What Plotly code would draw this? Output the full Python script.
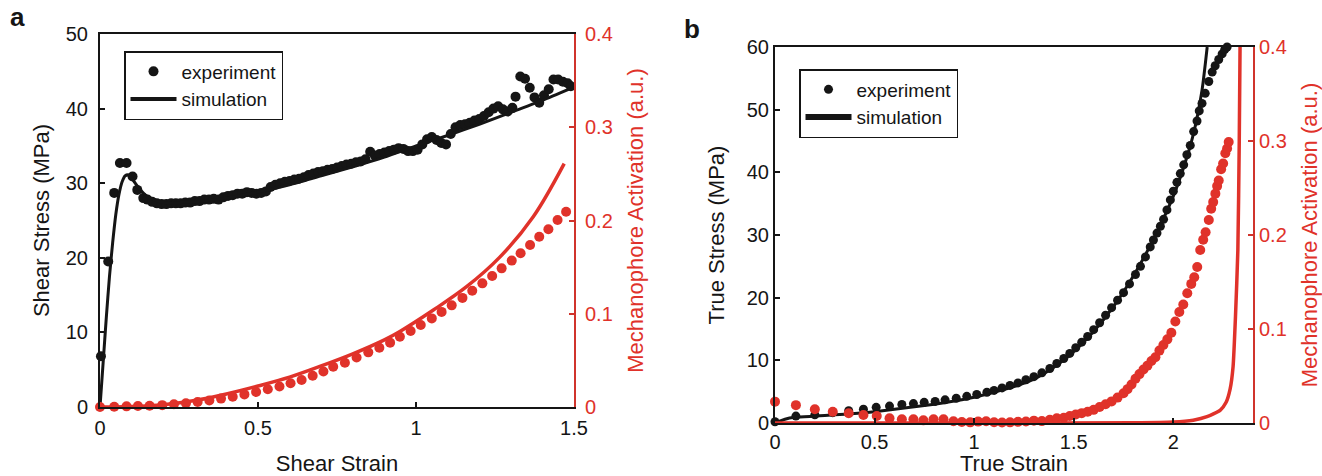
import plotly.graph_objects as go

# ---------------- Panel a data ----------------
a_exp_strain = [0.003, 0.026, 0.045, 0.063, 0.084, 0.103, 0.118, 0.137,
                0.15, 0.165, 0.18, 0.195, 0.21, 0.225, 0.24, 0.255, 0.27, 0.285, 0.30, 0.315,
                0.33, 0.345, 0.36, 0.375, 0.39, 0.405, 0.42, 0.435, 0.45, 0.465, 0.48, 0.495,
                0.51, 0.525, 0.54, 0.555, 0.57, 0.585, 0.60, 0.615, 0.63, 0.645, 0.66, 0.675,
                0.69, 0.705, 0.72, 0.735, 0.75, 0.765, 0.78, 0.795, 0.81, 0.825, 0.84, 0.855,
                0.87, 0.885, 0.90, 0.915, 0.93, 0.945, 0.96, 0.975, 0.99, 1.005, 1.02, 1.035,
                1.05, 1.065, 1.08, 1.095, 1.11, 1.125, 1.14, 1.155, 1.17, 1.185, 1.2, 1.215,
                1.23, 1.245, 1.26, 1.275, 1.29, 1.305, 1.315, 1.33, 1.345, 1.36, 1.375, 1.39,
                1.405, 1.42, 1.435, 1.45, 1.465, 1.48, 1.49]
a_exp_stress = [6.8, 19.5, 28.7, 32.7, 32.7, 30.9, 29.1, 28.0,
                27.8, 27.5, 27.3, 27.2, 27.2, 27.3, 27.3, 27.3, 27.4, 27.4, 27.6, 27.6,
                27.8, 27.8, 27.9, 27.8, 28.1, 28.3, 28.4, 28.6, 28.6, 28.8, 28.7, 28.6,
                28.7, 28.9, 29.5, 29.8, 30.0, 30.2, 30.3, 30.5, 30.6, 30.8, 31.1, 31.3,
                31.5, 31.6, 31.8, 31.9, 32.1, 32.3, 32.5, 32.6, 32.8, 32.9, 33.2, 34.2,
                33.7, 33.9, 34.1, 34.3, 34.5, 34.7, 34.6, 34.3, 34.3, 34.5, 35.2, 35.9,
                36.2, 35.8, 35.4, 35.2, 36.6, 37.5, 37.8, 37.9, 38.1, 38.4, 38.6, 39.0,
                39.5, 40.0, 40.3, 39.9, 39.6, 40.1, 41.6, 44.3, 44.0, 42.8, 41.5, 40.8,
                41.8, 42.6, 43.9, 43.9, 43.6, 43.4, 43.0]

a_sim_strain = [0, 0.01, 0.02, 0.03, 0.04, 0.05, 0.06, 0.07, 0.08, 0.09, 0.1, 0.12, 0.15,
                0.2, 0.3, 0.4, 0.5, 0.6, 0.7, 0.8, 0.9, 1.0, 1.1, 1.2, 1.3, 1.4, 1.49]
a_sim_stress = [0, 6, 12, 17.5, 22, 25.8, 28.5, 30.2, 31.0, 31.1, 30.7, 29.5, 28.2,
                27.4, 27.5, 28.0, 28.8, 29.8, 31.0, 32.2, 33.5, 35.0, 36.4, 37.9, 39.5, 41.1, 42.7]

a_act_exp_strain = [0.0, 0.045, 0.084, 0.12, 0.157, 0.197, 0.234, 0.272, 0.309, 0.346, 0.383,
                    0.42, 0.457, 0.494, 0.531, 0.568, 0.603, 0.638, 0.673, 0.707, 0.738,
                    0.775, 0.812, 0.849, 0.884, 0.918, 0.949, 0.983, 1.015, 1.05, 1.081,
                    1.113, 1.147, 1.178, 1.21, 1.241, 1.271, 1.303, 1.331, 1.361, 1.39,
                    1.419, 1.448, 1.475]
a_act_exp = [0.0, 0.0003, 0.0007, 0.001, 0.0014, 0.002, 0.003, 0.004, 0.0054, 0.007, 0.009,
             0.011, 0.0135, 0.016, 0.019, 0.022, 0.0255, 0.029, 0.0335, 0.038, 0.0432,
             0.0475, 0.053, 0.0586, 0.0636, 0.069, 0.0754, 0.0815, 0.088, 0.095, 0.102,
             0.109, 0.117, 0.1247, 0.1326, 0.1405, 0.1487, 0.157, 0.1648, 0.1737, 0.1826,
             0.1906, 0.2005, 0.2094]

a_act_sim_strain = [0, 0.1, 0.2, 0.3, 0.4, 0.5, 0.6, 0.7, 0.8, 0.9, 0.949, 1.055, 1.16,
                    1.266, 1.371, 1.469]
a_act_sim = [0, 0.0005, 0.0025, 0.007, 0.014, 0.0225, 0.032, 0.044, 0.057, 0.072, 0.081,
             0.104, 0.129, 0.161, 0.204, 0.261]

# ---------------- Panel b data ----------------
b_exp_strain = [0, 0.105, 0.2, 0.29, 0.37, 0.444, 0.508, 0.575, 0.637, 0.695, 0.749, 0.804,
                0.854, 0.91, 0.963, 1.013, 1.064, 1.1, 1.14, 1.18, 1.22, 1.26, 1.3, 1.34,
                1.38, 1.415, 1.45, 1.48, 1.51, 1.54, 1.57, 1.6, 1.63, 1.66, 1.69, 1.72,
                1.75, 1.78, 1.81, 1.835, 1.86, 1.884, 1.9, 1.918, 1.935, 1.951, 1.968,
                1.985, 2.0, 2.018, 2.035, 2.052, 2.068, 2.085, 2.102, 2.119, 2.13, 2.144,
                2.16, 2.178, 2.195, 2.21, 2.228, 2.245, 2.258, 2.27]
b_exp_stress = [0.2, 1.1, 1.3, 1.65, 1.97, 2.2, 2.5, 2.7, 2.97, 3.1, 3.3, 3.45,
                3.7, 3.95, 4.25, 4.55, 4.9, 5.2, 5.6, 6.0, 6.4, 6.9, 7.4, 8.0,
                8.7, 9.5, 10.3, 11.1, 12.0, 12.9, 13.8, 14.9, 16.0, 17.2, 18.4, 19.6,
                20.8, 22.2, 23.7, 25.0, 26.5, 28.1, 29.2, 30.3, 31.4, 32.5, 34.0,
                35.6, 37.0, 38.4, 39.8, 41.2, 42.8, 44.3, 46.5, 48.2, 49.8, 51.0,
                52.6, 54.5, 56.0, 57.0, 58.0, 58.9, 59.6, 60.0]

b_sim_strain = [0, 0.05, 0.1, 0.2, 0.3, 0.4, 0.5, 0.6, 0.7, 0.8, 0.9, 1.0, 1.1, 1.2, 1.3,
                1.4, 1.5, 1.6, 1.7, 1.8, 1.9, 2.0, 2.05, 2.1, 2.144, 2.17]
b_sim_stress = [0, 0.6, 0.9, 1.1, 1.3, 1.5, 1.8, 2.2, 2.6, 3.0, 3.5, 4.1, 4.9, 5.8, 7.0,
                8.9, 11.4, 14.6, 18.6, 23.5, 29.3, 36.2, 40.6, 46.0, 53.1, 60.0]

b_act_exp_strain = [0, 0.105, 0.2, 0.29, 0.37, 0.444, 0.511, 0.575, 0.637, 0.695, 0.745,
                    0.796, 0.846, 0.896, 0.938, 0.98, 1.02, 1.06, 1.1, 1.14, 1.18, 1.22,
                    1.26, 1.3, 1.34, 1.38, 1.415, 1.45, 1.48, 1.51, 1.54, 1.57, 1.6, 1.63,
                    1.66, 1.69, 1.72, 1.75, 1.77, 1.79, 1.81, 1.83, 1.85, 1.87, 1.89, 1.91,
                    1.93, 1.95, 1.97, 1.99, 2.01, 2.03, 2.05, 2.07, 2.09, 2.105, 2.12,
                    2.135, 2.15, 2.162, 2.178, 2.19, 2.2, 2.211, 2.22, 2.228, 2.24, 2.25,
                    2.261, 2.27, 2.278]
b_act_exp = [0.0227, 0.019, 0.0146, 0.012, 0.0103, 0.0085, 0.0074, 0.005, 0.004, 0.004,
             0.0028, 0.004, 0.004, 0.0018, 0.0011, 0.0007, 0.0015, 0.0018, 0.0008, 0.0005,
             0.0007, 0.0012, 0.0016, 0.0025, 0.002, 0.0035, 0.005, 0.0055, 0.0075, 0.009,
             0.0105, 0.012, 0.014, 0.017, 0.02, 0.023, 0.027, 0.0316, 0.036, 0.041, 0.047,
             0.052, 0.057, 0.061, 0.066, 0.07, 0.077, 0.083, 0.089, 0.096, 0.108, 0.118,
             0.126, 0.138, 0.148, 0.155, 0.166, 0.184, 0.195, 0.203, 0.216, 0.228, 0.235,
             0.244, 0.252, 0.258, 0.27, 0.276, 0.287, 0.292, 0.299]

b_act_sim_strain = [0, 1.0, 1.8, 2.0, 2.1, 2.169, 2.236, 2.265, 2.285, 2.3, 2.312, 2.324,
                    2.331, 2.335]
b_act_sim = [0, 0, 0.0002, 0.001, 0.003, 0.0067, 0.0138, 0.022, 0.036, 0.06, 0.113, 0.184,
             0.3, 0.4]

# ---------------- Styling ----------------
BLACK = "#151515"
RED = "#e0322a"
RED_AX = "#d0342c"
FONT = "Liberation Sans, Arial, Helvetica, sans-serif"
TICK = 20
TITLE = 22
W, H = 1322, 476

fig = go.Figure()

# Panel a
fig.add_trace(go.Scatter(x=a_exp_strain, y=a_exp_stress, mode="markers", name="experiment",
                         marker=dict(color=BLACK, size=10), xaxis="x", yaxis="y",
                         cliponaxis=False, legend="legend", legendrank=1))
fig.add_trace(go.Scatter(x=a_sim_strain, y=a_sim_stress, mode="lines", showlegend=False,
                         line=dict(color=BLACK, width=3, shape="spline", smoothing=0.6),
                         xaxis="x", yaxis="y"))
fig.add_trace(go.Scatter(x=[None], y=[None], mode="lines", name="simulation",
                         line=dict(color=BLACK, width=4), xaxis="x", yaxis="y",
                         legend="legend", legendrank=2))
fig.add_trace(go.Scatter(x=a_act_sim_strain, y=a_act_sim, mode="lines", showlegend=False,
                         line=dict(color=RED, width=3.5, shape="spline"), xaxis="x", yaxis="y2"))
fig.add_trace(go.Scatter(x=a_act_exp_strain, y=a_act_exp, mode="markers", showlegend=False,
                         marker=dict(color=RED, size=10), xaxis="x", yaxis="y2",
                         cliponaxis=False))

# Panel b
fig.add_trace(go.Scatter(x=b_sim_strain, y=b_sim_stress, mode="lines", showlegend=False,
                         line=dict(color=BLACK, width=3, shape="spline", smoothing=0.6),
                         xaxis="x2", yaxis="y3"))
fig.add_trace(go.Scatter(x=b_exp_strain, y=b_exp_stress, mode="markers", name="experiment",
                         marker=dict(color=BLACK, size=9), xaxis="x2", yaxis="y3",
                         cliponaxis=False, legend="legend2", legendrank=1))
fig.add_trace(go.Scatter(x=[None], y=[None], mode="lines", name="simulation",
                         line=dict(color=BLACK, width=6), xaxis="x2", yaxis="y3",
                         legend="legend2", legendrank=2))
fig.add_trace(go.Scatter(x=b_act_sim_strain, y=b_act_sim, mode="lines", showlegend=False,
                         line=dict(color=RED, width=3.5, shape="spline", smoothing=0.5),
                         xaxis="x2", yaxis="y4"))
fig.add_trace(go.Scatter(x=b_act_exp_strain, y=b_act_exp, mode="markers", showlegend=False,
                         marker=dict(color=RED, size=10), xaxis="x2", yaxis="y4",
                         cliponaxis=False))

common_x = dict(showline=True, linecolor=BLACK, linewidth=2, mirror=True, ticks="inside",
                ticklen=5, tickcolor=BLACK, tickwidth=1.5, showgrid=False, zeroline=False,
                automargin=False,
                tickfont=dict(size=TICK, color=BLACK, family=FONT),
                title_font=dict(size=TITLE, color=BLACK, family=FONT))
common_yl = dict(showline=True, linecolor=BLACK, linewidth=2, ticks="inside", ticklen=5,
                 tickcolor=BLACK, tickwidth=1.5, showgrid=False, zeroline=False,
                 automargin=False,
                 tickfont=dict(size=TICK, color=BLACK, family=FONT),
                 title_font=dict(size=TITLE, color=BLACK, family=FONT))
common_yr = dict(showline=True, linecolor=RED_AX, linewidth=2, ticks="inside", ticklen=5,
                 tickcolor=RED_AX, tickwidth=1.5, showgrid=False, zeroline=False,
                 automargin=False, side="right",
                 tickfont=dict(size=TICK, color=RED, family=FONT),
                 title_font=dict(size=TITLE, color=RED, family=FONT))

ax_dom = [100 / W, 574 / W]
ay_dom = [1 - 407 / H, 1 - 34 / H]
bx_dom = [775 / W, 1253 / W]
by_dom = [1 - 423 / H, 1 - 47 / H]

legend_common = dict(xanchor="left", yanchor="top", bgcolor="white", bordercolor=BLACK,
                     borderwidth=1.5, font=dict(size=19, color=BLACK, family=FONT),
                     tracegroupgap=0, itemwidth=46)

fig.update_layout(
    template="none",
    width=W, height=H, margin=dict(l=0, r=0, t=0, b=0, autoexpand=False),
    paper_bgcolor="white", plot_bgcolor="white",
    font=dict(family=FONT, color=BLACK),
    xaxis=dict(common_x, domain=ax_dom, anchor="y", range=[0, 1.5], dtick=0.5,
               ticklabelstandoff=2, title=dict(text="Shear Strain", standoff=25)),
    yaxis=dict(common_yl, domain=ay_dom, anchor="x", range=[0, 50], dtick=10,
               ticklabelstandoff=6, title=dict(text="Shear Stress (MPa)", standoff=10)),
    yaxis2=dict(common_yr, overlaying="y", anchor="x", range=[0, 0.4], dtick=0.1,
                ticklabelstandoff=5,
                title=dict(text="Mechanophore Activation (a.u.)", standoff=16)),
    xaxis2=dict(common_x, domain=bx_dom, anchor="y3", range=[0, 2.4], dtick=0.5,
                title=dict(text="True Strain", standoff=9)),
    yaxis3=dict(common_yl, domain=by_dom, anchor="x2", range=[0, 60], dtick=10,
                title=dict(text="True Stress (MPa)", standoff=16)),
    yaxis4=dict(common_yr, overlaying="y3", anchor="x2", range=[0, 0.4], dtick=0.1,
                title=dict(text="Mechanophore Activation (a.u.)", standoff=16)),
    legend=dict(legend_common, x=124 / W, y=1 - 51 / H),
    legend2=dict(legend_common, x=799 / W, y=1 - 69 / H),
    annotations=[
        dict(text="<b>a</b>", x=8 / W, y=1.0, xref="paper", yref="paper",
             xanchor="left", yanchor="top", showarrow=False,
             font=dict(size=26, color=BLACK, family=FONT)),
        dict(text="<b>b</b>", x=682 / W, y=1 - 12 / H, xref="paper", yref="paper",
             xanchor="left", yanchor="top", showarrow=False,
             font=dict(size=26, color=BLACK, family=FONT)),
    ],
)

fig.write_html("out.html")
